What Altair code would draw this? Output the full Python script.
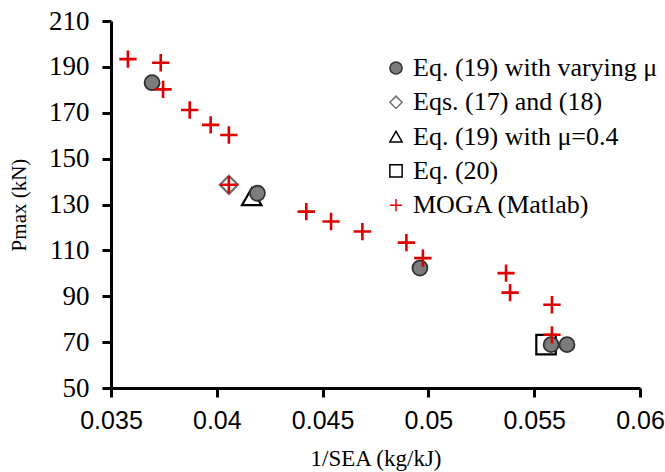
import altair as alt
import pandas as pd

# ---- data ----
series_names = ["Eq. (19) with varying μ", "Eqs. (17) and (18)", "Eq. (19) with μ=0.4",
                "Eq. (20)", "MOGA (Matlab)"]

eq19_var_x = [0.03694, 0.04192, 0.04960, 0.05580, 0.05655]
eq19_var_y = [183.1, 134.9, 102.3, 68.9, 68.9]

eq1718_x = [0.04057]
eq1718_y = [138.6]

eq19_04_x = [0.04165]
eq19_04_y = [133.4]

eq20_x = [0.05556]
eq20_y = [68.9]

moga_x = [0.03580, 0.03735, 0.03746, 0.03872, 0.03971, 0.04057, 0.04057, 0.04423,
          0.04540, 0.04688, 0.04896, 0.04974, 0.05367, 0.05386, 0.05584, 0.05584]
moga_y = [193.4, 191.8, 180.2, 171.2, 164.7, 160.3, 138.6, 126.9,
          122.6, 118.2, 113.4, 106.6, 100.1, 91.6, 86.3, 73.2]

x_ticks = [0.035, 0.04, 0.045, 0.05, 0.055, 0.06]
y_ticks = [50, 70, 90, 110, 130, 150, 170, 190, 210]

groups = [
    (series_names[0], eq19_var_x, eq19_var_y),
    (series_names[1], eq1718_x, eq1718_y),
    (series_names[2], eq19_04_x, eq19_04_y),
    (series_names[3], eq20_x, eq20_y),
    (series_names[4], moga_x, moga_y),
]
rows = []
for name, xs, ys in groups:
    for xv, yv in zip(xs, ys):
        rows.append({"series": name, "x": xv, "y": yv})
df = pd.DataFrame(rows)

plus_path = "M-1,0H1M0,-1V1"
shapes = ["circle", "diamond", "triangle-up", "square", plus_path]
strokes = ["#333333", "#6e6e6e", "#000000", "#000000", "#e00000"]
fills = ["#7c7c7c", "transparent", "transparent", "transparent", "transparent"]
# per-series mark size / stroke width (style only)
mark_size = {series_names[0]: 225, series_names[1]: 330, series_names[2]: 380,
             series_names[3]: 380, series_names[4]: 300}
mark_sw = {series_names[0]: 1.8, series_names[1]: 2.2, series_names[2]: 2.2,
           series_names[3]: 2.2, series_names[4]: 2.6}

legend = alt.Legend(
    title=None, orient="none", legendX=272, legendY=34,
    labelFont="Liberation Serif", labelFontSize=26, labelColor="#000000",
    symbolSize=150, symbolStrokeWidth=1.5, rowPadding=8.3, labelOffset=4,
    labelLimit=400,
)

x_enc = alt.X("x:Q", title="1/SEA (kg/kJ)",
              scale=alt.Scale(domain=[0.035, 0.06], nice=False, zero=False),
              axis=alt.Axis(values=x_ticks, format="~g", grid=False,
                            labelFont="Liberation Sans", labelFontSize=25,
                            labelPadding=11, titlePadding=14, labelFlush=False,
                            titleFont="Liberation Serif", titleFontSize=23))
y_enc = alt.Y("y:Q", title="Pmax (kN)",
              scale=alt.Scale(domain=[50, 210], nice=False, zero=False),
              axis=alt.Axis(values=y_ticks, grid=False,
                            labelFont="Liberation Serif", labelFontSize=27,
                            labelPadding=13, titlePadding=19,
                            titleFont="Liberation Serif", titleFontSize=21))

layers = []
# draw order: open symbols, filled circles, crosses on top
for name in [series_names[3], series_names[2], series_names[1], series_names[0], series_names[4]]:
    layers.append(
        alt.Chart(df).transform_filter(alt.datum.series == name).mark_point(
            opacity=1, filled=False, size=mark_size[name], strokeWidth=mark_sw[name]
        ).encode(
            x=x_enc, y=y_enc,
            shape=alt.Shape("series:N", scale=alt.Scale(domain=series_names, range=shapes), legend=legend),
            stroke=alt.Stroke("series:N", scale=alt.Scale(domain=series_names, range=strokes), legend=legend),
            fill=alt.Fill("series:N", scale=alt.Scale(domain=series_names, range=fills), legend=legend),
        )
    )

chart = alt.layer(*layers).properties(
    width=529, height=367,
    autosize=alt.AutoSizeParams(type="none"),
    padding={"left": 111, "top": 21, "right": 25, "bottom": 84},
).configure_view(
    stroke=None
).configure_axis(
    domainColor="#000000", domainWidth=3,
    tickColor="#000000", tickWidth=3, tickSize=9,
    labelColor="#000000", titleColor="#000000", titleFontWeight="normal",
)

chart.save("out.html", embed_options={"renderer": "svg", "actions": False})
